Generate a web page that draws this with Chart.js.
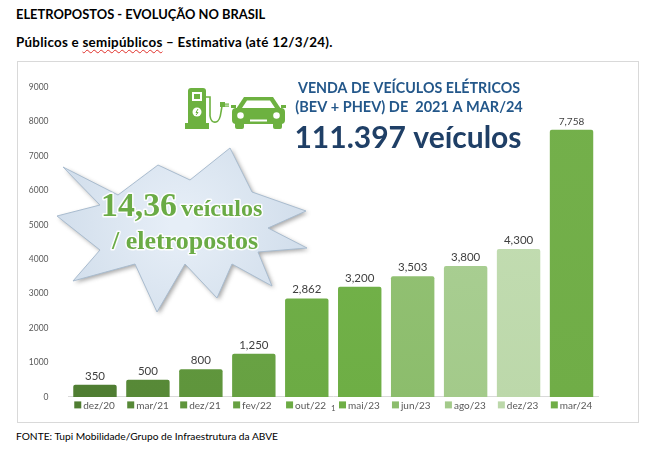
<!DOCTYPE html>
<html>
<head>
<meta charset="utf-8">
<script src="https://cdn.jsdelivr.net/npm/chart.js@4.4.1/dist/chart.umd.min.js"></script>
<style>
  body { margin: 0; background: #fff; width: 668px; height: 457px; overflow: hidden; position: relative; font-family: Lato, 'Open Sans', sans-serif; color: #000; }
  .t1 { position: absolute; left: 16px; top: 6px; font-weight: bold; font-size: 12.9px; }
  .t2 { position: absolute; left: 16px; top: 34px; font-weight: bold; font-size: 13.4px; letter-spacing: 0.25px; }
  .wavy { text-decoration: underline wavy #e0302a; text-decoration-thickness: 1px; text-underline-offset: 2px; }
  .frame { position: absolute; left: 17px; top: 61px; width: 620px; height: 360px; border: 1px solid #d9d9d9; }
  .src { position: absolute; left: 16px; top: 430px; font-size: 10.2px; }
</style>
</head>
<body>
<div class="t1">ELETROPOSTOS - EVOLUÇÃO NO BRASIL</div>
<div class="t2">Públicos e <span class="wavy">semipúblicos</span> – Estimativa (até 12/3/24).</div>
<div class="frame"><canvas id="chart"></canvas></div>
<div class="src">FONTE: Tupi Mobilidade/Grupo de Infraestrutura da ABVE</div>

<script>
const categories = ['dez/20', 'mar/21', 'dez/21', 'fev/22', 'out/22', 'mai/23', 'jun/23', 'ago/23', 'dez/23', 'mar/24'];
const chargers = [350, 500, 800, 1250, 2862, 3200, 3503, 3800, 4300, 7758];
const yTicks = [0, 1000, 2000, 3000, 4000, 5000, 6000, 7000, 8000, 9000];
const axisCategory = '1';

// Excel monochromatic greens, one per bar
const barColors = ['#4f7d32', '#578937', '#5f953c', '#67a142', '#6cab44', '#6eae45', '#8cbd6c', '#a3ca8a', '#bcd8aa', '#70ad47'];
const barTops = ['#52833a', '#5b8f3c', '#649c42', '#6ea84a', '#74b24c', '#76b44d', '#98c47a', '#aed29a', '#c6dfb6', '#74b04b'];

document.addEventListener('DOMContentLoaded', function () {
    const canvas = document.getElementById('chart');

    function drawStar(ctx) {
        const pts = [
            [63, 167], [118, 195], [158, 165], [190, 180], [230, 148], [252, 192], [306, 211], [268, 228],
            [307, 248], [258, 252], [272, 286], [232, 264], [217, 298], [185, 264], [157, 312], [135, 264],
            [73, 281], [100, 250], [57, 216], [100, 205]
        ];
        ctx.save();
        ctx.beginPath();
        pts.forEach((p, i) => i ? ctx.lineTo(p[0], p[1]) : ctx.moveTo(p[0], p[1]));
        ctx.closePath();
        ctx.shadowColor = 'rgba(60,60,60,0.45)';
        ctx.shadowBlur = 4;
        ctx.shadowOffsetX = 2;
        ctx.shadowOffsetY = 2;
        const g = ctx.createRadialGradient(180, 225, 10, 180, 225, 140);
        g.addColorStop(0, '#e6eef7');
        g.addColorStop(1, '#cfdcea');
        ctx.fillStyle = g;
        ctx.fill();
        ctx.shadowColor = 'transparent';
        ctx.strokeStyle = '#a9bccf';
        ctx.lineWidth = 1;
        ctx.stroke();

        ctx.textBaseline = 'alphabetic';
        ctx.textAlign = 'left';
        ctx.lineJoin = 'round';
        const green = '#6aab45';
        function glowText(text, x, y, font, maxW) {
            ctx.font = font;
            ctx.strokeStyle = 'rgba(255,255,255,0.9)';
            ctx.lineWidth = 3;
            ctx.strokeText(text, x, y, maxW);
            ctx.fillStyle = green;
            ctx.fillText(text, x, y, maxW);
        }
        glowText('14,36', 101, 216, 'bold 34px "Liberation Serif", serif', 76);
        glowText('veículos', 181, 216, 'bold 24px "Liberation Serif", serif', 90);
        glowText('/ eletropostos', 112, 249, 'bold 26px "Liberation Serif", serif', 149);
        ctx.restore();
    }

    function drawIcons(ctx) {
        const c = '#6db140';
        ctx.save();
        ctx.fillStyle = c;
        // pump
        ctx.beginPath();
        ctx.roundRect(188, 88, 18, 37, [3, 3, 0, 0]);
        ctx.fill();
        ctx.fillRect(185, 123, 24, 6);
        ctx.fillStyle = '#fff';
        ctx.fillRect(192, 92, 10, 9);
        ctx.fillStyle = c;
        ctx.fillRect(194, 94, 6, 5);
        ctx.fillStyle = '#fff';
        ctx.beginPath();
        ctx.arc(197, 112, 4.5, 0, Math.PI * 2);
        ctx.fill();
        ctx.strokeStyle = c;
        ctx.lineWidth = 1;
        ctx.beginPath();
        ctx.moveTo(198, 109); ctx.lineTo(196, 112.5); ctx.lineTo(198, 112.5); ctx.lineTo(196, 115);
        ctx.stroke();
        // hose
        ctx.lineWidth = 1.6;
        ctx.beginPath();
        ctx.moveTo(206, 97);
        ctx.lineTo(210, 97);
        ctx.lineTo(210, 116);
        ctx.quadraticCurveTo(211, 123, 216, 122);
        ctx.quadraticCurveTo(220, 121, 221, 112);
        ctx.lineTo(222, 106);
        ctx.stroke();
        ctx.fillStyle = c;
        ctx.fillRect(220, 102, 5, 5);
        ctx.fillRect(225, 103.5, 4, 1.2);
        ctx.fillRect(225, 105.5, 4, 1.2);
        // car
        ctx.beginPath();
        ctx.moveTo(244, 97);
        ctx.lineTo(273, 97);
        ctx.lineTo(281, 109);
        ctx.lineTo(236, 109);
        ctx.closePath();
        ctx.fill();
        ctx.beginPath();
        ctx.roundRect(232, 108, 53, 16, 4);
        ctx.fill();
        ctx.fillRect(231, 105, 5, 3);
        ctx.fillRect(281, 105, 5, 3);
        ctx.beginPath();
        ctx.roundRect(235, 122, 9, 7, 2);
        ctx.roundRect(273, 122, 9, 7, 2);
        ctx.fill();
        ctx.fillStyle = '#fff';
        ctx.beginPath();
        ctx.moveTo(247, 100.5);
        ctx.lineTo(270, 100.5);
        ctx.lineTo(275, 108);
        ctx.lineTo(242, 108);
        ctx.closePath();
        ctx.fill();
        ctx.beginPath();
        ctx.arc(240.5, 115.5, 3.3, 0, Math.PI * 2);
        ctx.arc(276.5, 115.5, 3.3, 0, Math.PI * 2);
        ctx.fill();
        ctx.fillRect(250, 119.5, 17, 2);
        ctx.restore();
    }

    function drawHeadline(ctx) {
        ctx.save();
        ctx.textAlign = 'center';
        ctx.textBaseline = 'alphabetic';
        ctx.fillStyle = '#23578a';
        ctx.font = 'bold 14.5px Lato, sans-serif';
        ctx.fillText('VENDA DE VEÍCULOS ELÉTRICOS', 409, 93, 222);
        ctx.fillText('(BEV + PHEV) DE  2021 A MAR/24', 409, 112, 237);
        ctx.fillStyle = '#1f3f66';
        ctx.font = 'bold 30px Lato, sans-serif';
        ctx.fillText('111.397 veículos', 408, 148, 231);
        ctx.restore();
    }

    const extras = {
        id: 'extras',
        beforeDatasetsDraw(chart) {
            const ctx = chart.ctx;
            ctx.save();
            ctx.translate(-18, -62);
            drawStar(ctx);
            drawIcons(ctx);
            drawHeadline(ctx);
            ctx.restore();
        },
        afterDatasetsDraw(chart) {
            const ctx = chart.ctx;
            const meta = chart.getDatasetMeta(0);
            ctx.save();
            meta.data.forEach((bar, i) => {
                // value label
                ctx.fillStyle = '#404040';
                ctx.textAlign = 'center';
                ctx.textBaseline = 'bottom';
                ctx.font = (i === meta.data.length - 1 ? '10px' : '11.5px') + ' Lato, sans-serif';
                ctx.fillText(chargers[i].toLocaleString('en-US'), bar.x, bar.y - 3);
                // legend entry under the bar
                const left = bar.x - bar.width / 2 + 1;
                const y = chart.chartArea.bottom + 8;
                ctx.fillStyle = barColors[i];
                ctx.fillRect(left, y - 3.5, 7, 7);
                ctx.fillStyle = '#595959';
                ctx.textAlign = 'left';
                ctx.textBaseline = 'middle';
                ctx.font = '10px Lato, sans-serif';
                ctx.fillText(categories[i], left + 9, y + 0.5);
            });
            const a = chart.chartArea;
            ctx.fillStyle = '#595959';
            ctx.font = '8px Lato, sans-serif';
            ctx.textAlign = 'center';
            ctx.textBaseline = 'middle';
            ctx.fillText(axisCategory, (a.left + a.right) / 2, a.bottom + 12);
            ctx.restore();
        }
    };

    new Chart(canvas, {
        type: 'bar',
        data: {
            labels: categories,
            datasets: [{
                label: axisCategory,
                data: chargers,
                backgroundColor: function (context) {
                    const area = context.chart.chartArea;
                    const i = context.dataIndex;
                    if (!area) return barColors[i];
                    const g = context.chart.ctx.createLinearGradient(0, area.top, 0, area.bottom);
                    g.addColorStop(0, barTops[i]);
                    g.addColorStop(1, barColors[i]);
                    return g;
                },
                borderRadius: 2,
                borderSkipped: 'bottom',
                barPercentage: 0.82,
                categoryPercentage: 1
            }]
        },
        plugins: [extras],
        options: {
            responsive: true,
            maintainAspectRatio: false,
            animation: false,
            layout: { padding: { top: 25, right: 40, bottom: 23, left: 0 } },
            plugins: {
                legend: { display: false },
                tooltip: { enabled: false }
            },
            scales: {
                x: {
                    grid: { display: false, drawTicks: false },
                    border: { display: true, color: '#d9d9d9' },
                    ticks: { display: false },
                    afterFit: scale => { scale.height = 0; }
                },
                y: {
                    min: 0,
                    max: 9000,
                    afterBuildTicks: scale => { scale.ticks = yTicks.map(v => ({ value: v })); },
                    afterFit: scale => { scale.width = 50.5; },
                    grid: { display: false, drawTicks: false },
                    border: { display: false },
                    ticks: {
                        padding: 20,
                        color: '#595959',
                        font: { family: 'Lato, sans-serif', size: 8.5 },
                        callback: v => String(v)
                    }
                }
            }
        }
    });
});
</script>
</body>
</html>
